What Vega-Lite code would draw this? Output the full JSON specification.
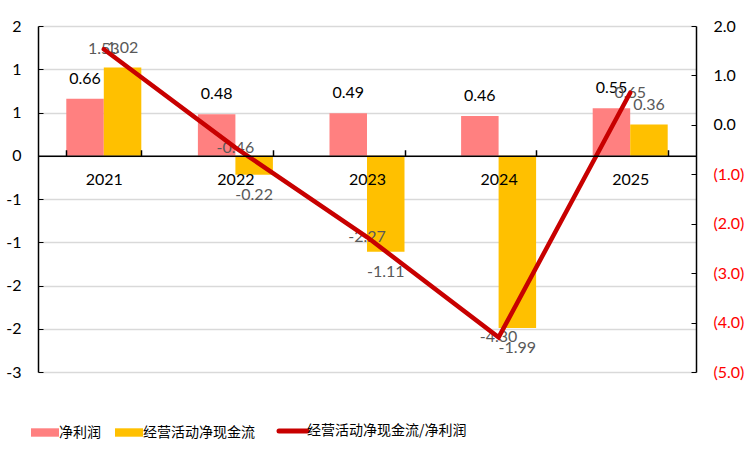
{
  "$schema": "https://vega.github.io/schema/vega-lite/v6.json",
  "width": 658,
  "height": 346,
  "padding": {"left": 5, "top": 18, "right": 5, "bottom": 3},
  "background": "white",
  "config": {
    "view": {"stroke": null},
    "font": "Lato, Noto Sans CJK SC",
    "axis": {"labelFont": "Lato, Noto Sans CJK SC"},
    "legend": {"labelFont": "Noto Sans CJK SC"}
  },
  "datasets": {
    "bars": [
      {"year": "2021", "series": "净利润", "value": 0.66},
      {"year": "2021", "series": "经营活动净现金流", "value": 1.02},
      {"year": "2022", "series": "净利润", "value": 0.48},
      {"year": "2022", "series": "经营活动净现金流", "value": -0.22},
      {"year": "2023", "series": "净利润", "value": 0.49},
      {"year": "2023", "series": "经营活动净现金流", "value": -1.11},
      {"year": "2024", "series": "净利润", "value": 0.46},
      {"year": "2024", "series": "经营活动净现金流", "value": -1.99},
      {"year": "2025", "series": "净利润", "value": 0.55},
      {"year": "2025", "series": "经营活动净现金流", "value": 0.36}
    ],
    "ratio": [
      {"year": "2021", "series": "经营活动净现金流/净利润", "value": 1.53},
      {"year": "2022", "series": "经营活动净现金流/净利润", "value": -0.46},
      {"year": "2023", "series": "经营活动净现金流/净利润", "value": -2.27},
      {"year": "2024", "series": "经营活动净现金流/净利润", "value": -4.30},
      {"year": "2025", "series": "经营活动净现金流/净利润", "value": 0.65}
    ]
  },
  "encoding": {
    "x": {
      "field": "year",
      "type": "nominal",
      "scale": {"paddingInner": 0.43, "paddingOuter": 0.215},
      "axis": {
        "title": null,
        "labelAngle": 0,
        "domainColor": "black",
        "domainWidth": 1.5,
        "tickColor": "black",
        "tickWidth": 1.5,
        "tickBand": "extent",
        "tickSize": -6,
        "labelPadding": 22,
        "labelFontSize": 16,
        "labelColor": "black",
        "offset": -216.25,
        "zindex": 1
      }
    }
  },
  "layer": [
    {
      "data": {"name": "bars"},
      "transform": [
        {"calculate": "replace(format(datum.value, '.2f'), '\u2212', '-')", "as": "label"}
      ],
      "encoding": {
        "y": {
          "field": "value",
          "type": "quantitative",
          "scale": {"domain": [-2.5, 1.5], "nice": false},
          "axis": {
            "orient": "left",
            "title": null,
            "values": [-2.5, -2, -1.5, -1, -0.5, 0, 0.5, 1, 1.5],
            "labelExpr": "(datum.value < 0 ? '-' : '') + round(abs(datum.value))",
            "grid": true,
            "gridColor": "#D9D9D9",
            "gridWidth": 1.3,
            "domainColor": "black",
            "domainWidth": 1.5,
            "tickColor": "black",
            "tickSize": -5,
            "labelPadding": 22,
            "labelFontSize": 16,
            "labelColor": "black"
          }
        },
        "xOffset": {"field": "series", "sort": ["净利润", "经营活动净现金流"]}
      },
      "layer": [
        {
          "mark": {"type": "bar"},
          "encoding": {
            "color": {
              "field": "series",
              "type": "nominal",
              "scale": {
                "domain": ["净利润", "经营活动净现金流", "经营活动净现金流/净利润"],
                "range": ["#FF8080", "#FFC000", "#C80000"]
              },
              "legend": {
                "orient": "bottom",
                "offset": 52,
                "direction": "horizontal",
                "title": null,
                "labelFontSize": 14,
                "labelColor": "black",
                "labelLimit": 400,
                "symbolSize": 784,
                "columnPadding": 14,
                "labelOffset": 7,
                "encode": {
                  "symbols": {
                    "update": {
                      "shape": {"signal": "datum.value === '经营活动净现金流/净利润' ? 'stroke' : 'M-1,-0.3H1V0.3H-1Z'"},
                      "fill": {"signal": "datum.value === '经营活动净现金流/净利润' ? 'transparent' : scale('color', datum.value)"},
                      "stroke": {"signal": "scale('color', datum.value)"},
                      "strokeWidth": {"signal": "datum.value === '经营活动净现金流/净利润' ? 5 : 0"},
                      "strokeCap": {"value": "round"},
                      "opacity": {"value": 1}
                    }
                  }
                }
              }
            }
          }
        },
        {
          "mark": {"type": "text", "dy": -20, "fontSize": 16, "baseline": "middle", "align": "center"},
          "transform": [{"filter": "datum.value >= 0"}],
          "encoding": {
            "text": {"field": "label"},
            "color": {"condition": {"test": "datum.series === '净利润'", "value": "#000000"}, "value": "#595959"}
          }
        },
        {
          "mark": {"type": "text", "dy": 20, "fontSize": 16, "baseline": "middle", "align": "center"},
          "transform": [{"filter": "datum.value < 0"}],
          "encoding": {
            "text": {"field": "label"},
            "color": {"condition": {"test": "datum.series === '净利润'", "value": "#000000"}, "value": "#595959"}
          }
        }
      ]
    },
    {
      "data": {"name": "ratio"},
      "transform": [
        {"calculate": "replace(format(datum.value, '.2f'), '\u2212', '-')", "as": "label"}
      ],
      "encoding": {
        "y": {
          "field": "value",
          "type": "quantitative",
          "scale": {"domain": [-5, 2], "nice": false},
          "axis": {
            "orient": "right",
            "title": null,
            "values": [-5, -4, -3, -2, -1, 0, 1, 2],
            "labelExpr": "datum.value < 0 ? '(' + format(-datum.value, '.1f') + ')' : format(datum.value, '.1f')",
            "grid": false,
            "domainColor": "black",
            "domainWidth": 1.5,
            "tickColor": "black",
            "tickSize": -5,
            "labelPadding": 22,
            "labelFontSize": 16,
            "labelColor": {"condition": {"test": "datum.value < 0", "value": "#FF0000"}, "value": "black"}
          }
        }
      },
      "layer": [
        {
          "mark": {"type": "text", "fontSize": 16, "baseline": "middle", "align": "center", "color": "#595959"},
          "encoding": {"text": {"field": "label"}}
        },
        {
          "mark": {"type": "line", "strokeWidth": 4.5, "strokeCap": "round", "strokeJoin": "miter"},
          "encoding": {
            "color": {"field": "series", "type": "nominal"}
          }
        }
      ]
    }
  ],
  "resolve": {"scale": {"y": "independent"}}
}
